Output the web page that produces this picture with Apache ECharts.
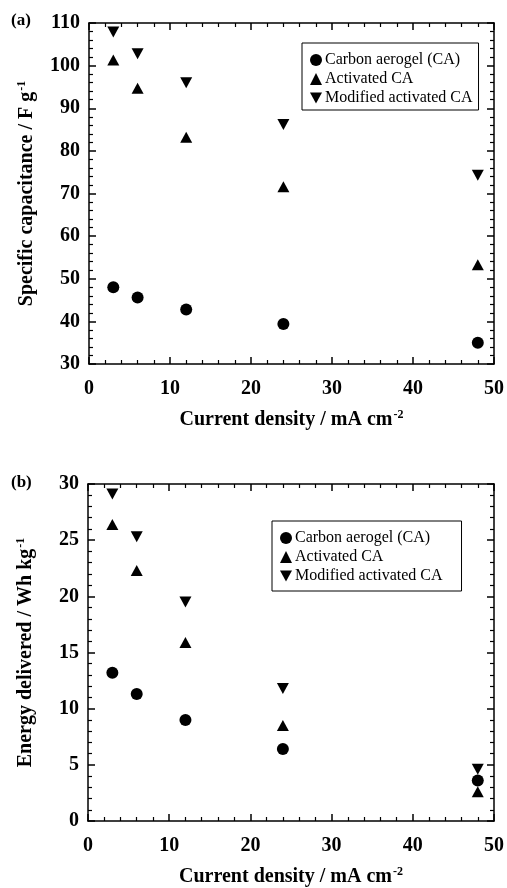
<!DOCTYPE html>
<html>
<head>
<meta charset="utf-8">
<script src="https://cdn.jsdelivr.net/npm/echarts@6/dist/echarts.min.js"></script>
<style>
  html, body { margin: 0; padding: 0; background: #fff; }
  #chart { width: 507px; height: 888px; }
</style>
</head>
<body>
<div id="chart"></div>
<script>
// current density, mA cm-2
const currentDensity = [3, 6, 12, 24, 48];
const seriesNames = ['Carbon aerogel (CA)', 'Activated CA', 'Modified activated CA'];

// (a) specific capacitance / F g-1
const capCA = [48.0, 45.6, 42.8, 39.4, 35.0];
const capActivated = [101.3, 94.7, 83.2, 71.6, 53.3];
const capModified = [107.9, 102.8, 96.0, 86.2, 74.3];

// (b) energy delivered / Wh kg-1
const energyCA = [13.2, 11.3, 9.0, 6.4, 3.6];
const energyActivated = [26.4, 22.3, 15.9, 8.5, 2.6];
const energyModified = [29.1, 25.3, 19.5, 11.8, 4.6];

const FONT = '"Liberation Serif", "DejaVu Serif", serif';
const downTri = 'path://M0,0L10,0L5,9Z';
const symbols = ['circle', 'triangle', downTri];
const sizes = [12, [12, 11], [12, 11]];

let chart = echarts.init(document.getElementById('chart'), null, { renderer: 'canvas' });

function pairs(ys) {
  return currentDensity.map((x, i) => [x, ys[i]]);
}

const lineStyle = { color: '#000', width: 1.5 };
const nameRich = {
  t: { fontFamily: FONT, fontWeight: 'bold', fontSize: 20, color: '#000', verticalAlign: 'bottom' },
  s: { fontFamily: FONT, fontWeight: 'bold', fontSize: 12, color: '#000', verticalAlign: 'bottom', padding: [0, 0, 9, 1] }
};

function xAxes(grid, show) {
  return {
    gridIndex: grid,
    type: 'value',
    min: 0, max: 50, interval: 10,
    position: show ? 'bottom' : 'top',
    axisLine: { show: true, onZero: false, lineStyle },
    axisTick: { show: true, inside: true, length: 7, lineStyle },
    minorTick: { show: true, splitNumber: 5, length: 4, lineStyle: { color: '#000', width: 1.2 } },
    splitLine: { show: false },
    axisLabel: show ? { show: true, color: '#000', fontFamily: FONT, fontWeight: 'bold', fontSize: 20, margin: 15 } : { show: false },
    name: show ? '{t|Current density / mA cm}{s|-2}' : '',
    nameLocation: 'middle',
    nameGap: 45,
    nameTextStyle: { color: '#000', fontFamily: FONT, fontWeight: 'bold', rich: nameRich }
  };
}

function yAxes(grid, show, min, max, interval, name) {
  return {
    gridIndex: grid,
    type: 'value',
    min: min, max: max, interval: interval,
    position: show ? 'left' : 'right',
    axisLine: { show: true, onZero: false, lineStyle },
    axisTick: { show: true, inside: true, length: 7, lineStyle },
    minorTick: { show: true, splitNumber: 5, length: 4, lineStyle: { color: '#000', width: 1.2 } },
    splitLine: { show: false },
    axisLabel: show ? { show: true, color: '#000', fontFamily: FONT, fontWeight: 'bold', fontSize: 20, margin: 9 } : { show: false },
    name: show ? name : '',
    nameLocation: 'middle',
    nameGap: 52,
    nameRotate: 90,
    nameTextStyle: { color: '#000', fontFamily: FONT, fontWeight: 'bold', rich: nameRich }
  };
}

function scatter(name, data, idx, axis) {
  return {
    name: name,
    type: 'scatter',
    xAxisIndex: axis,
    yAxisIndex: axis,
    data: pairs(data),
    symbol: symbols[idx],
    symbolSize: sizes[idx],
    itemStyle: { color: '#000', opacity: 1 },
    emphasis: { disabled: true }
  };
}

const legendBase = {
  orient: 'vertical',
  backgroundColor: '#fff',
  borderColor: '#000',
  borderWidth: 1,
  borderRadius: 0,
  padding: [9, 6, 4, 8],
  itemGap: 3,
  itemWidth: 12,
  itemHeight: 12,
  data: seriesNames,
  itemStyle: { opacity: 1 },
  textStyle: { color: '#000', fontFamily: FONT, fontSize: 16, padding: [0, 0, 0, -2] }
};

let option = {
  backgroundColor: '#fff',
  animation: false,
  grid: [
    { left: 89, top: 23, right: 12, height: 341 },
    { left: 88, top: 484, right: 12, height: 344 }
  ],
  xAxis: [xAxes(0, true), xAxes(0, false), xAxes(1, true), xAxes(1, false)],
  yAxis: [
    yAxes(0, true, 30, 110, 10, '{t|Specific capacitance / F g}{s|-1}'),
    yAxes(0, false, 30, 110, 10, ''),
    yAxes(1, true, 0, 30, 5, '{t|Energy delivered / Wh kg}{s|-1}'),
    yAxes(1, false, 0, 30, 5, '')
  ],
  legend: [
    Object.assign({}, legendBase, { left: 302, top: 43 }),
    Object.assign({}, legendBase, { left: 272, top: 521, padding: [9, 19, 7, 8] })
  ],
  graphic: [
    { type: 'text', left: 11, top: 12, style: { text: '(a)', font: 'bold 17px ' + FONT, fill: '#000' } },
    { type: 'text', left: 11, top: 474, style: { text: '(b)', font: 'bold 17px ' + FONT, fill: '#000' } }
  ],
  series: [
    scatter(seriesNames[0], capCA, 0, 0),
    scatter(seriesNames[1], capActivated, 1, 0),
    scatter(seriesNames[2], capModified, 2, 0),
    scatter(seriesNames[0], energyCA, 0, 2),
    scatter(seriesNames[1], energyActivated, 1, 2),
    scatter(seriesNames[2], energyModified, 2, 2)
  ]
};

option && chart.setOption(option);
</script>
</body>
</html>
